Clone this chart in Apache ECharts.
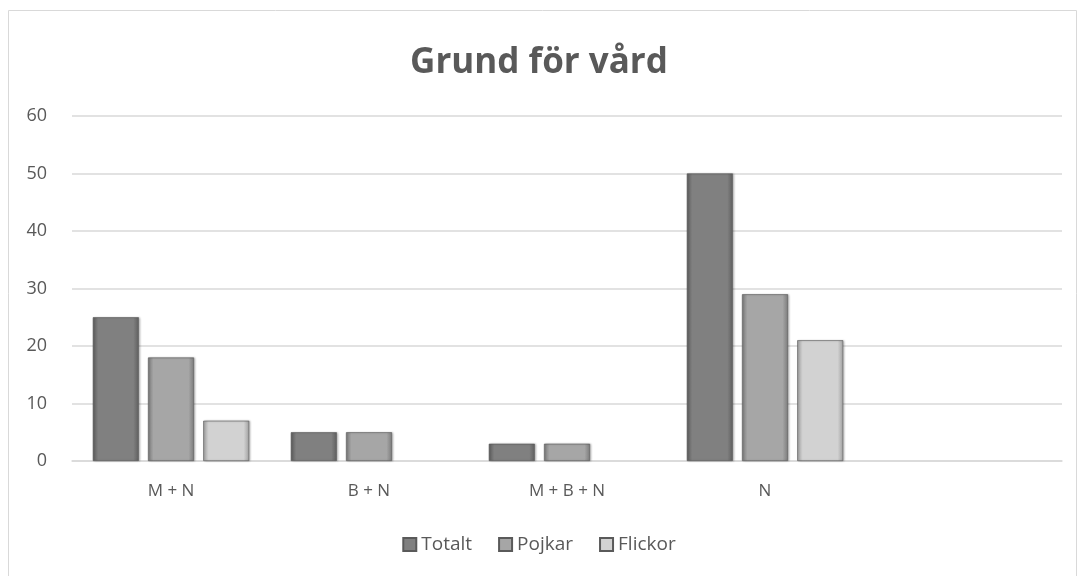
<!DOCTYPE html>
<html>
<head>
<meta charset="utf-8">
<script src="https://cdn.jsdelivr.net/npm/echarts@6/dist/echarts.min.js"></script>
<style>
  html, body { margin: 0; padding: 0; background: #fff; }
  #chart { width: 1078px; height: 576px; }
</style>
</head>
<body>
<div id="chart"></div>
<script>
// categories (last one is empty, the chart keeps a blank slot)
const categories = ['M + N', 'B + N', 'M + B + N', 'N', '']
const totalt = [25, 5, 3, 50, null]
const pojkar = [18, 5, 3, 29, null]
// no bar drawn for Flickor in B + N and M + B + N
const flickor = [7, null, null, 21, null]
const yTicks = [0, 10, 20, 30, 40, 50, 60]

const textColor = '#595959'
const font = '"Open Sans", "Noto Sans", sans-serif'

// bevelled grey fill, darker edges
function bevel(edge, mid) {
  return new echarts.graphic.LinearGradient(0, 0, 1, 0, [
    { offset: 0, color: edge },
    { offset: 0.12, color: mid },
    { offset: 0.88, color: mid },
    { offset: 1, color: edge },
  ])
}

function barSeries(name, data, edge, mid) {
  return {
    name,
    type: 'bar',
    data,
    barWidth: 46,
    barGap: '20%',
    itemStyle: {
      color: bevel(edge, mid),
      borderColor: '#5a5a5a',
      borderWidth: 0.6,
      shadowColor: 'rgba(0,0,0,0.25)',
      shadowBlur: 2,
      shadowOffsetX: 1,
    },
  }
}

const chart = echarts.init(document.getElementById('chart'))

chart.setOption({
  animation: false,
  title: {
    text: 'Grund för vård',
    left: 'center',
    top: 41,
    textStyle: {
      color: textColor,
      fontSize: 35,
      fontWeight: 'bold',
      fontFamily: font,
    },
  },
  graphic: [
    {
      type: 'rect',
      shape: { x: 8.5, y: 10.5, width: 1068, height: 570 },
      style: { fill: 'none', stroke: '#d9d9d9', lineWidth: 1 },
      silent: true,
    },
  ],
  legend: {
    bottom: 17,
    left: 'center',
    icon: 'rect',
    itemWidth: 13,
    itemHeight: 13,
    itemGap: 26,
    textStyle: { color: textColor, fontSize: 19, fontFamily: font },
    data: ['Totalt', 'Pojkar', 'Flickor'],
  },
  grid: {
    left: 72,
    right: 16,
    top: 116,
    bottom: 115,
  },
  xAxis: {
    type: 'category',
    data: categories,
    axisLine: { lineStyle: { color: '#d9d9d9', width: 1.5 } },
    axisTick: { show: false },
    axisLabel: {
      color: textColor,
      fontSize: 17,
      fontFamily: font,
      margin: 22,
    },
  },
  yAxis: {
    type: 'value',
    min: yTicks[0],
    max: yTicks[yTicks.length - 1],
    interval: 10,
    axisLine: { show: false },
    axisTick: { show: false },
    splitLine: { lineStyle: { color: '#d9d9d9', width: 1.5 } },
    axisLabel: {
      color: textColor,
      fontSize: 18,
      fontFamily: font,
      margin: 25,
    },
  },
  series: [
    barSeries('Totalt', totalt, '#5f5f5f', '#808080'),
    barSeries('Pojkar', pojkar, '#7c7c7c', '#a6a6a6'),
    barSeries('Flickor', flickor, '#a0a0a0', '#d2d2d2'),
  ],
})
</script>
</body>
</html>
